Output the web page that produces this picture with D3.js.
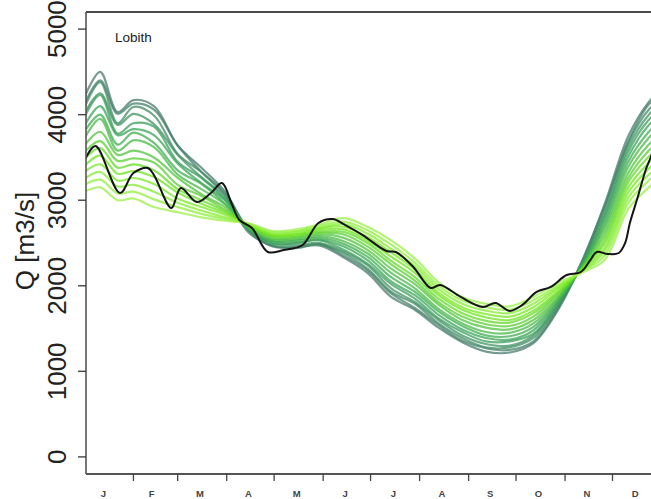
<!DOCTYPE html>
<html><head><meta charset="utf-8">
<script src="https://cdn.jsdelivr.net/npm/d3@7"></script>
<style>html,body{margin:0;padding:0;background:#fff;} svg{display:block;font-family:"Liberation Sans", Arial, sans-serif;}</style>
</head><body><svg id="c" width="651" height="499"></svg>
<script>
// ---- data ----
const monthLabels = ["J","F","M","A","M","J","J","A","S","O","N","D"];
const monthStartDays = [32,60,91,121,152,182,213,244,274,305,335];
const yTicks = [0,1000,2000,3000,4000,5000];
const stationName = "Lobith";
const yTitle = "Q [m3/s]";

const nodeDays = [1, 11, 22, 32, 45, 60, 75, 90, 105, 120, 135, 150, 165, 180, 195, 210, 225, 240, 255, 270, 285, 300, 315, 330, 345, 358, 365];
const member0  = [4200,4500,4030,4170,4100,3640,3380,3100,2640,2460,2450,2470,2330,2150,1870,1720,1510,1340,1230,1220,1330,1700,2250,2950,3750,4150,4280];
const member1  = [4120,4400,4010,4130,4060,3640,3330,3060,2620,2470,2440,2490,2350,2180,1910,1740,1540,1360,1270,1250,1350,1720,2260,2930,3690,4120,4220];
const member2  = [4080,4380,3900,4090,3990,3540,3330,3080,2660,2470,2460,2480,2380,2200,1930,1790,1560,1390,1280,1280,1390,1740,2230,2900,3670,4060,4170];
const member3  = [4010,4250,3880,4010,3890,3530,3270,3040,2650,2500,2480,2500,2400,2240,1970,1810,1600,1420,1320,1300,1420,1760,2240,2850,3620,4000,4110];
const member4  = [3970,4230,3780,3900,3860,3450,3260,3010,2670,2490,2500,2530,2420,2260,2020,1850,1620,1460,1350,1350,1440,1780,2220,2810,3570,3940,4050];
const member5  = [3870,4100,3760,3830,3760,3430,3200,3000,2660,2520,2510,2540,2460,2300,2050,1890,1660,1490,1390,1370,1480,1800,2210,2770,3510,3880,3990];
const member6  = [3800,4000,3650,3790,3670,3350,3190,2960,2680,2520,2530,2560,2490,2340,2100,1930,1700,1530,1420,1410,1520,1820,2200,2720,3450,3800,3920];
const member7  = [3720,3950,3580,3700,3620,3300,3130,2950,2670,2540,2540,2580,2520,2380,2150,1970,1730,1560,1460,1450,1560,1840,2200,2680,3390,3730,3850];
const member8  = [3640,3800,3530,3580,3500,3260,3070,2920,2690,2550,2560,2600,2560,2420,2200,2020,1780,1600,1510,1490,1600,1860,2190,2630,3320,3650,3760];
const member9  = [3560,3690,3460,3490,3440,3180,3050,2890,2700,2570,2570,2620,2600,2460,2250,2060,1810,1640,1550,1530,1640,1890,2190,2580,3260,3580,3690];
const member10 = [3480,3610,3380,3420,3350,3130,3000,2870,2700,2580,2590,2630,2630,2500,2290,2100,1850,1680,1590,1570,1680,1910,2180,2530,3210,3510,3620];
const member11 = [3400,3520,3310,3340,3270,3090,2960,2850,2710,2590,2600,2650,2660,2530,2340,2150,1890,1720,1630,1600,1710,1930,2180,2490,3150,3440,3550];
const member12 = [3330,3420,3230,3260,3190,3020,2920,2830,2710,2600,2610,2670,2690,2570,2390,2190,1920,1750,1670,1640,1750,1960,2170,2440,3090,3370,3480];
const member13 = [3250,3330,3160,3180,3100,2970,2880,2800,2720,2610,2630,2680,2720,2610,2430,2230,1960,1790,1710,1680,1790,1980,2160,2400,3030,3300,3400];
const member14 = [3180,3240,3080,3100,3010,2920,2840,2780,2720,2630,2640,2700,2750,2650,2480,2270,2000,1830,1750,1720,1830,2000,2160,2350,2970,3230,3330];
const member15 = [3100,3150,3000,3020,2920,2860,2800,2760,2730,2640,2660,2720,2790,2690,2530,2320,2040,1870,1790,1760,1870,2030,2150,2300,2900,3150,3250];
const ensemble = [member0,member1,member2,member3,member4,member5,member6,member7,member8,member9,member10,member11,member12,member13,member14,member15];

const obsDays = [1,8,23.5,32,41,45,56,62,72,81,88,94,99,107,117,127,139,149,158,166,177,192,198,209,220,226,239,253,261,270,278,287,296,306,315,321,325,332,339,343,346,351,356,359,365];
const obsQ    = [3460,3633,3084,3318,3376,3294,2909,3143,2979,3084,3201,2967,2769,2675,2395,2418,2477,2734,2780,2710,2593,2407,2395,2220,1974,2009,1869,1752,1799,1706,1776,1928,1986,2126,2161,2301,2395,2371,2383,2500,2734,3037,3353,3493,3800];

// ---- layout ----
const L = 86, T = 12, B = 474, R = 662;
const svg = d3.select("#c");
const x = d3.scaleLinear().domain([1, 365]).range([84.4, 84.4 + 364 * 1.5811]);
const y = d3.scaleLinear().domain([-200, 5200]).range([B, T]);
const color = d3.scaleLinear().domain([0, 0.35, 0.75, 1]).range(["#4a7a6e", "#36a656", "#6fe61a", "#9af048"]);

svg.append("defs").append("clipPath").attr("id", "clip")
  .append("rect").attr("x", L).attr("y", T).attr("width", R - L).attr("height", B - T);

const plot = svg.append("g").attr("clip-path", "url(#clip)");
const line = d3.line().x(d => x(d[0])).y(d => y(d[1])).curve(d3.curveCatmullRom.alpha(0.5));

ensemble.forEach((m, i) => {
  const pts = nodeDays.map((d, j) => [d, m[j]]);
  plot.append("path").attr("d", line(pts)).attr("fill", "none")
    .attr("stroke", color(i / (ensemble.length - 1)))
    .attr("stroke-width", 2.2).attr("stroke-opacity", 0.75);
});

plot.append("path").attr("d", line(obsDays.map((d, j) => [d, obsQ[j]])))
  .attr("fill", "none").attr("stroke", "#151515").attr("stroke-width", 2);

// box
svg.append("line").attr("x1", L).attr("x2", R).attr("y1", T).attr("y2", T).attr("stroke", "#111").attr("stroke-width", 1.5);
svg.append("line").attr("x1", L).attr("x2", L).attr("y1", T).attr("y2", B).attr("stroke", "#555").attr("stroke-width", 1.6);
svg.append("line").attr("x1", L).attr("x2", R).attr("y1", B).attr("y2", B).attr("stroke", "#555").attr("stroke-width", 1.8);

// y axis
yTicks.forEach(v => {
  svg.append("line").attr("x1", L - 8).attr("x2", L).attr("y1", y(v)).attr("y2", y(v)).attr("stroke", "#444").attr("stroke-width", 1.4);
  svg.append("text").attr("transform", `translate(66,${y(v)}) rotate(-90)`)
    .attr("text-anchor", "middle").attr("font-size", 26).attr("fill", "#222").text(v);
});
svg.append("text").attr("transform", `translate(34,241) rotate(-90)`)
  .attr("text-anchor", "middle").attr("font-size", 26).attr("fill", "#222").text(yTitle);

// x axis
monthStartDays.forEach(d => {
  svg.append("line").attr("x1", x(d)).attr("x2", x(d)).attr("y1", B).attr("y2", B + 7).attr("stroke", "#444").attr("stroke-width", 1.3);
});
monthLabels.forEach((m, i) => {
  svg.append("text").attr("x", x(13 + i * 30.58)).attr("y", 497).attr("text-anchor", "middle")
    .attr("font-size", 9.5).attr("font-weight", "bold").attr("fill", "#444").text(m);
});

svg.append("text").attr("x", 115).attr("y", 42).attr("font-size", 13.5).attr("fill", "#222").text(stationName);
</script></body></html>
